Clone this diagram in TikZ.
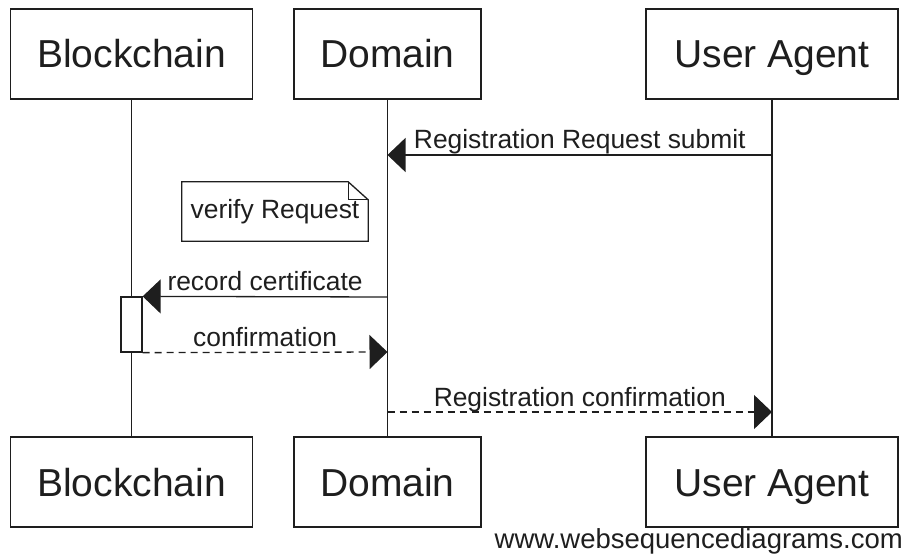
\documentclass[tikz,border=0pt]{standalone}
\usepackage{fontspec}
\setmainfont{Liberation Sans}
\usetikzlibrary{arrows.meta}
\definecolor{ink}{HTML}{1E1E1E}
\tikzset{
  actor/.style={draw=ink, line width=1.3pt, fill=white, inner sep=0pt,
    minimum height=90pt, text height=28pt, text depth=0pt, text=ink,
    font=\fontsize{39}{44}\selectfont},
  lifeline/.style={draw=ink, line width=1.3pt},
  msg/.style={draw=ink, line width=1.3pt,
    -{Triangle[length=18pt,width=34pt]}},
  reply/.style={msg, dash pattern=on 7pt off 5pt},
  lbl/.style={anchor=base, yshift=6pt, inner sep=0pt, text=ink,
    font=\fontsize{26.4}{30}\selectfont},
  activation/.style={draw=ink, line width=1.3pt, fill=white, inner sep=0pt,
    minimum width=21pt, minimum height=55pt},
  notebox/.style={inner sep=0pt, minimum width=186pt, minimum height=59pt,
    text=ink, font=\fontsize{26.4}{30}\selectfont},
}
\begin{document}
\begin{tikzpicture}[x=1pt, y=-1pt]
\useasboundingbox (0,0) rectangle (912,556);

% participants, top and bottom
\node[actor, minimum width=242pt] (bt) at (131.5,54) {Blockchain};
\node[actor, minimum width=187pt] (dt) at (387.5,54) {Domain};
\node[actor, minimum width=252pt] (ut) at (772,54) {User Agent};
\node[actor, minimum width=242pt] (bb) at (131.5,482) {Blockchain};
\node[actor, minimum width=187pt] (db) at (387.5,482) {Domain};
\node[actor, minimum width=252pt] (ub) at (772,482) {User Agent};

% lifelines
\draw[lifeline] (bt) -- (bb);
\draw[lifeline] (dt) -- (db);
\draw[lifeline] (ut) -- (ub);

% activation on the blockchain lifeline
\node[activation] (act) at (131.5,324.5) {};

% message end points on the lifelines
\coordinate (u1) at (772,155);
\coordinate (d1) at (387.5,155);
\coordinate (d2) at (387.5,297);
\coordinate (d3) at (387.5,352);
\coordinate (d4) at (387.5,412);
\coordinate (u4) at (772,412);

% messages
\draw[msg] (u1) -- node[lbl] {Registration Request submit} (d1);
\draw[msg] (d2) -- node[lbl] {record certificate} (act.north east);
\draw[reply] (act.south east) -- node[lbl] {confirmation} (d3);
\draw[reply] (d4) -- node[lbl] {Registration confirmation} (u4);

% note with folded corner
\node[notebox] (note) at (275,211.5) {verify Request};
\draw[draw=ink, line width=1.3pt]
  (note.north west) -- ([xshift=-20pt]note.north east)
  -- ([yshift=-18pt]note.north east) -- (note.south east)
  -- (note.south west) -- cycle;
\draw[draw=ink, line width=1.3pt]
  ([xshift=-20pt]note.north east) -- ([xshift=-20pt,yshift=-18pt]note.north east)
  -- ([yshift=-18pt]note.north east);

% footer
\node[anchor=base east, inner sep=0pt, text=ink,
  font=\fontsize{27.5}{31}\selectfont] (site) at (903,548)
  {www.websequencediagrams.com};
\end{tikzpicture}
\end{document}
